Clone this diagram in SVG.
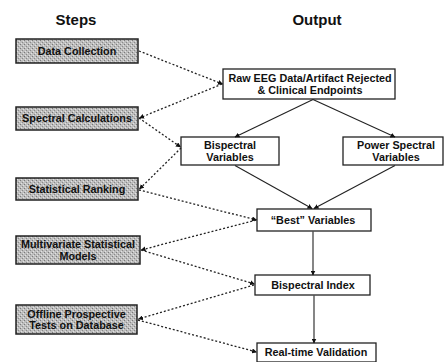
<svg xmlns="http://www.w3.org/2000/svg" width="445" height="362" viewBox="0 0 445 362">
<defs>
  <pattern id="stip" width="4" height="4" patternUnits="userSpaceOnUse">
    <rect width="4" height="4" fill="#bdbdbd"/>
    <rect x="0" y="0" width="1" height="1" fill="#7a7a7a"/>
    <rect x="2" y="2" width="1" height="1" fill="#8a8a8a"/>
    <rect x="3" y="1" width="1" height="1" fill="#e2e2e2"/>
    <rect x="1" y="3" width="1" height="1" fill="#e2e2e2"/>
  </pattern>
  <marker id="ah" viewBox="0 0 10 10" refX="9" refY="5" markerWidth="5" markerHeight="5" orient="auto" markerUnits="userSpaceOnUse">
    <path d="M0,0 L10,5 L0,10 Z" fill="#111"/>
  </marker>
</defs>
<style>
  .t { font-family: "Liberation Sans", Arial, sans-serif; font-weight: bold; font-size: 10.8px; fill: #111; text-anchor: middle; }
  .h { font-family: "Liberation Sans", Arial, sans-serif; font-weight: bold; font-size: 15px; fill: #111; text-anchor: middle; }
  .step { fill: url(#stip); stroke: #222; stroke-width: 1.5; }
  .out { fill: #fff; stroke: #222; stroke-width: 1.3; }
  .solid { stroke: #222; stroke-width: 1.1; fill: none; marker-end: url(#ah); }
  .dash { stroke: #222; stroke-width: 1.3; stroke-dasharray: 2 2; fill: none; marker-end: url(#ah); }
</style>
<rect width="445" height="362" fill="#fff"/>
<text class="h" x="76" y="25">Steps</text>
<text class="h" x="317" y="25">Output</text>

<g id="step-data-collection"><rect class="step" x="16" y="39" width="122" height="24"/><text class="t" x="77" y="54.5">Data Collection</text></g>
<g id="step-spectral-calculations"><rect class="step" x="16" y="107" width="122" height="23"/><text class="t" x="77" y="122">Spectral Calculations</text></g>
<g id="step-statistical-ranking"><rect class="step" x="16" y="178" width="122" height="22"/><text class="t" x="77" y="192.5">Statistical Ranking</text></g>
<g id="step-multivariate"><rect class="step" x="16" y="236" width="124" height="28"/><text class="t" x="78" y="248">Multivariate Statistical</text><text class="t" x="78" y="259.5">Models</text></g>
<g id="step-offline"><rect class="step" x="16" y="305" width="121" height="29"/><text class="t" x="76.5" y="317.5">Offline Prospective</text><text class="t" x="76.5" y="329">Tests on Database</text></g>

<g id="out-raw-eeg"><rect class="out" x="223" y="69" width="172" height="30"/><text class="t" x="310" y="82">Raw EEG Data/Artifact Rejected</text><text class="t" x="310" y="93.5">&amp; Clinical Endpoints</text></g>
<g id="out-bispectral-variables"><rect class="out" x="181" y="137" width="98" height="28"/><text class="t" x="230" y="148.5">Bispectral</text><text class="t" x="230" y="160.5">Variables</text></g>
<g id="out-power-spectral"><rect class="out" x="343" y="137" width="100" height="28"/><text class="t" x="396" y="148.5">Power Spectral</text><text class="t" x="396" y="160.5">Variables</text></g>
<g id="out-best"><rect class="out" x="257" y="209" width="114" height="22"/><text class="t" x="313" y="223.5">“Best” Variables</text></g>
<g id="out-bis-index"><rect class="out" x="255" y="275" width="115" height="20"/><text class="t" x="313" y="288.5">Bispectral Index</text></g>
<g id="out-realtime"><rect class="out" x="257" y="343" width="119" height="19"/><text class="t" x="316" y="356">Real-time Validation</text></g>

<g id="connectors">
  <line class="solid" x1="313" y1="99.5" x2="235" y2="137"/>
  <line class="solid" x1="313" y1="99.5" x2="395" y2="137"/>
  <line class="solid" x1="235" y1="165.5" x2="312" y2="208.5"/>
  <line class="solid" x1="395" y1="165.5" x2="314" y2="208.5"/>
  <line class="solid" x1="313" y1="231.5" x2="313" y2="275"/>
  <line class="solid" x1="314" y1="295.5" x2="314" y2="343"/>

  <line class="dash" x1="139" y1="51" x2="222.5" y2="84"/>
  <line class="dash" x1="222" y1="84" x2="139.5" y2="118"/>
  <line class="dash" x1="139" y1="118" x2="180.5" y2="147"/>
  <line class="dash" x1="181" y1="148" x2="139.5" y2="189"/>
  <line class="dash" x1="139" y1="190" x2="256.5" y2="220"/>
  <line class="dash" x1="256" y1="220" x2="141" y2="250"/>
  <line class="dash" x1="141" y1="250" x2="254.5" y2="284"/>
  <line class="dash" x1="254" y1="285" x2="138.5" y2="319"/>
  <line class="dash" x1="138" y1="320" x2="256.5" y2="352"/>
</g>
</svg>
